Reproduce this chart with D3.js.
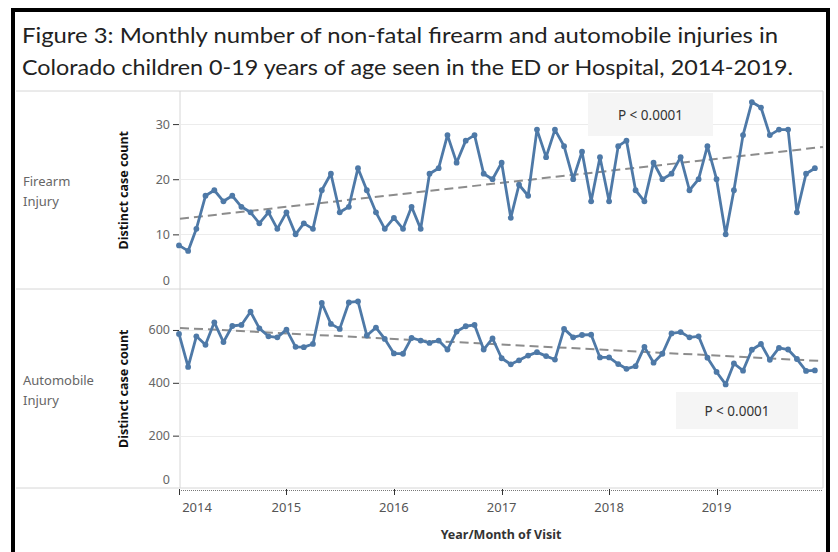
<!DOCTYPE html>
<html>
<head>
<meta charset="utf-8">
<script src="https://cdn.jsdelivr.net/npm/d3@7"></script>
<style>
  body { margin: 0; background: #fff; }
  svg { display: block; }
</style>
</head>
<body>
<div id="chart"></div>
<script>
// monthly counts, Jan 2014 .. Dec 2019
var firearm = [
	8, 7, 11, 17, 18, 16, 17, 15, 14, 12, 14, 11,
	14, 10, 12, 11, 18, 21, 14, 15, 22, 18, 14, 11,
	13, 11, 15, 11, 21, 22, 28, 23, 27, 28, 21, 20,
	23, 13, 19, 17, 29, 24, 29, 26, 20, 25, 16, 24,
	16, 26, 27, 18, 16, 23, 20, 21, 24, 18, 20, 26,
	20, 10, 18, 28, 34, 33, 28, 29, 29, 14, 21, 22
];
var automobile = [
	585, 460, 576, 544, 629, 554, 615, 619, 669, 606, 576, 572,
	601, 536, 535, 547, 702, 623, 604, 704, 708, 579, 609, 566,
	511, 510, 570, 560, 551, 560, 526, 594, 614, 619, 526, 568,
	493, 470, 485, 503, 516, 501, 488, 604, 572, 581, 582, 496,
	496, 471, 453, 463, 536, 476, 510, 587, 592, 572, 576, 495,
	441, 394, 473, 446, 525, 547, 487, 532, 526, 490, 445, 447
];
var months = d3.timeMonth.range(new Date(2014, 0, 1), new Date(2020, 0, 1));
var years = [2014, 2015, 2016, 2017, 2018, 2019];
var firearmTicks = [0, 10, 20, 30];
var autoTicks = [0, 200, 400, 600];

var width = 838, height = 552;
var paneLeft = 180, paneRight = 823;
var blue = "#4e79a7";
var axisFont = "'Noto Sans', 'Open Sans', sans-serif";

var svg = d3.select("#chart").append("svg")
	.attr("width", width)
	.attr("height", height);

// outer black frame
svg.append("rect")
	.attr("x", 13).attr("y", 10)
	.attr("width", 815).attr("height", 580)
	.attr("fill", "none")
	.attr("stroke", "#000")
	.attr("stroke-width", 4);

// title
var titleLines = [
	"Figure 3: Monthly number of non-fatal firearm and automobile injuries in",
	"Colorado children 0-19 years of age seen in the ED or Hospital, 2014-2019."
];
var titleWidths = [756, 771];
svg.selectAll(".title")
	.data(titleLines)
	.enter().append("text")
	.attr("class", "title")
	.attr("x", 22)
	.attr("y", function (d, i) { return 43 + i * 32; })
	.attr("textLength", function (d, i) { return titleWidths[i]; })
	.attr("lengthAdjust", "spacingAndGlyphs")
	.style("font-family", "Lato, 'Open Sans', sans-serif")
	.style("font-size", "22px")
	.style("fill", "#222")
	.text(function (d) { return d; });

var x = d3.scaleTime()
	.domain([new Date(2014, 0, 1), new Date(2020, 0, 1)])
	.range([179, 824]);

// grid frame lines
var frameColor = "#d6d6d6";
[91, 289, 488].forEach(function (yy) {
	svg.append("line")
		.attr("x1", 16).attr("x2", paneRight)
		.attr("y1", yy).attr("y2", yy)
		.attr("stroke", frameColor).attr("stroke-width", 1);
});
[paneLeft, paneRight].forEach(function (xx) {
	svg.append("line")
		.attr("x1", xx).attr("x2", xx)
		.attr("y1", 91).attr("y2", 488)
		.attr("stroke", frameColor).attr("stroke-width", 1);
});

// linear fit over month index
function fit(values) {
	var mx = d3.mean(values, function (d, i) { return i; });
	var my = d3.mean(values);
	var sxy = 0, sxx = 0;
	values.forEach(function (v, i) {
		sxy += (i - mx) * (v - my);
		sxx += (i - mx) * (i - mx);
	});
	var slope = sxy / sxx;
	return function (i) { return my + slope * (i - mx); };
}

var toIndex = d3.scaleTime()
	.domain([months[0], months[months.length - 1]])
	.range([0, months.length - 1]);

function drawPanel(cfg) {
	var y = d3.scaleLinear()
		.domain(cfg.domain)
		.range([cfg.bottom, cfg.top]);
	var g = svg.append("g");

	// gridlines
	g.selectAll(".grid")
		.data(cfg.ticks.filter(function (t) { return t > 0; }))
		.enter().append("line")
		.attr("x1", paneLeft + 1).attr("x2", paneRight - 1)
		.attr("y1", function (d) { return Math.round(y(d)) + 0.5; })
		.attr("y2", function (d) { return Math.round(y(d)) + 0.5; })
		.attr("stroke", "#ececec").attr("stroke-width", 1);

	// y axis
	var axis = g.append("g")
		.attr("transform", "translate(" + (paneLeft - 1) + ",0)")
		.call(d3.axisLeft(y).tickValues(cfg.ticks).tickSize(6).tickPadding(3)
			.tickFormat(d3.format("d")));
	axis.select(".domain").remove();
	axis.selectAll(".tick line").attr("stroke", "#333");
	axis.selectAll(".tick text")
		.style("font-family", axisFont)
		.style("font-size", "12.5px")
		.style("fill", "#666");
	// bottom label sits inside the pane, no tick mark
	axis.selectAll(".tick").filter(function (d) { return d === 0; })
		.attr("transform", "translate(0," + (y(0) - 9) + ")")
		.select("line").remove();

	// axis title
	g.append("text")
		.attr("transform", "translate(128," + ((cfg.top + cfg.bottom) / 2) + ") rotate(-90)")
		.attr("text-anchor", "middle")
		.style("font-family", axisFont)
		.style("font-size", "12.5px")
		.style("font-weight", "bold")
		.style("fill", "#111")
		.text("Distinct case count");

	// row header
	g.selectAll(".rowhead")
		.data(cfg.label)
		.enter().append("text")
		.attr("x", 23)
		.attr("y", function (d, i) { return cfg.labelY + i * 20; })
		.style("font-family", axisFont)
		.style("font-size", "13px")
		.style("fill", "#666")
		.text(function (d) { return d; });

	// trend line
	var f = fit(cfg.values);
	var t0 = x.invert(paneLeft), t1 = x.invert(paneRight);
	g.append("line")
		.attr("x1", paneLeft).attr("x2", paneRight)
		.attr("y1", y(f(toIndex(t0))))
		.attr("y2", y(f(toIndex(t1))))
		.attr("stroke", "#8c8c8c")
		.attr("stroke-width", 2)
		.attr("stroke-dasharray", "9,5");

	// series line
	var line = d3.line()
		.x(function (d, i) { return x(months[i]); })
		.y(function (d) { return y(d); });
	g.append("path")
		.datum(cfg.values)
		.attr("d", line)
		.attr("fill", "none")
		.attr("stroke", blue)
		.attr("stroke-width", 2.8)
		.attr("stroke-linejoin", "round");
	g.selectAll(".dot")
		.data(cfg.values)
		.enter().append("circle")
		.attr("cx", function (d, i) { return x(months[i]); })
		.attr("cy", function (d) { return y(d); })
		.attr("r", 2.9)
		.attr("fill", blue);

	// p-value annotation
	g.append("rect")
		.attr("x", cfg.pBox[0]).attr("y", cfg.pBox[1])
		.attr("width", cfg.pBox[2]).attr("height", cfg.pBox[3])
		.attr("fill", "#f5f5f5");
	g.append("text")
		.attr("x", cfg.pBox[0] + cfg.pBox[2] / 2)
		.attr("y", cfg.pBox[1] + cfg.pBox[3] / 2 + 5)
		.attr("text-anchor", "middle")
		.style("font-family", axisFont)
		.style("font-size", "13.5px")
		.style("fill", "#333")
		.text("P < 0.0001");
}

drawPanel({
	values: firearm,
	domain: [0, 36],
	ticks: firearmTicks,
	top: 91, bottom: 289.5,
	label: ["Firearm", "Injury"],
	labelY: 186,
	pBox: [588, 93, 125, 43]
});

drawPanel({
	values: automobile,
	domain: [0, 755],
	ticks: autoTicks,
	top: 289, bottom: 488.5,
	label: ["Automobile", "Injury"],
	labelY: 385,
	pBox: [676, 392, 122, 37]
});

// x axis: dotted minor line, year ticks and labels
svg.append("line")
	.attr("x1", 179).attr("x2", paneRight)
	.attr("y1", 490.5).attr("y2", 490.5)
	.attr("stroke", "#777")
	.attr("stroke-width", 1)
	.attr("stroke-dasharray", "1,1");

var yearDates = years.map(function (yv) { return new Date(yv, 0, 1); });
svg.selectAll(".ytick")
	.data(yearDates)
	.enter().append("line")
	.attr("x1", function (d) { return Math.round(x(d)) + 0.5; })
	.attr("x2", function (d) { return Math.round(x(d)) + 0.5; })
	.attr("y1", 489).attr("y2", 495)
	.attr("stroke", "#333");

svg.selectAll(".ylabel")
	.data(yearDates)
	.enter().append("text")
	.attr("x", function (d) { return Math.max(x(d), 197); })
	.attr("y", 512)
	.attr("text-anchor", "middle")
	.style("font-family", axisFont)
	.style("font-size", "13px")
	.style("fill", "#555")
	.text(function (d) { return d.getFullYear(); });

svg.append("text")
	.attr("x", 501)
	.attr("y", 539)
	.attr("text-anchor", "middle")
	.style("font-family", axisFont)
	.style("font-size", "12.5px")
	.style("font-weight", "bold")
	.style("fill", "#333")
	.text("Year/Month of Visit");
</script>
</body>
</html>
